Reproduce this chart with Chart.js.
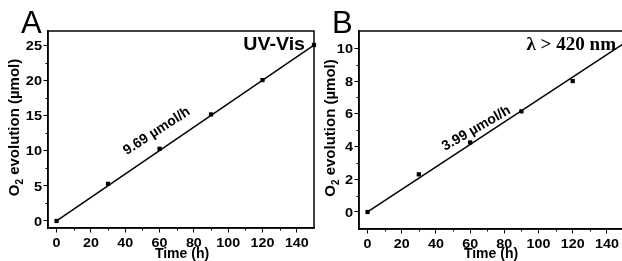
<!DOCTYPE html>
<html>
<head>
<meta charset="utf-8">
<script src="https://cdn.jsdelivr.net/npm/chart.js@4.4.1/dist/chart.umd.min.js"></script>
<style>
  html, body { margin: 0; padding: 0; background: #fff; }
  body { width: 622px; height: 261px; position: relative; overflow: hidden; }
  canvas { position: absolute; top: 0; }
  #panelA { left: 0; }
  #panelB { left: 311px; }
</style>
</head>
<body>
<canvas id="panelA" width="322" height="261"></canvas>
<canvas id="panelB" width="320" height="261"></canvas>
<script>
// sampling times and measured O2 (µmol)
const times = [0, 30, 60, 90, 120, 150];
const uvVisO2 = [0, 5.3, 10.3, 15.2, 20.1, 25.1];
const visO2 = [0, 2.3, 4.25, 6.15, 8.0, 10.3];

// linear fits (end points)
const fitTimes = [0, 150];
const uvVisFit = [0, 25.1];
const visFit = [0, 10.3];

// axis ticks
const xTicks = [0, 20, 40, 60, 80, 100, 120, 140];
const xMinor = [10, 30, 50, 70, 90, 110, 130];
const uvVisTicks = [0, 5, 10, 15, 20, 25];
const uvVisMinor = [2.5, 7.5, 12.5, 17.5, 22.5];
const visTicks = [0, 2, 4, 6, 8, 10];
const visMinor = [1, 3, 5, 7, 9];

const SANS = "'Liberation Sans', Arial, sans-serif";
const SERIF = "'Liberation Serif', 'Times New Roman', serif";

// text stretched horizontally like the scanned figure
function drawText(ctx, txt, x, y, font, align, sx) {
    ctx.save();
    ctx.font = font;
    ctx.textAlign = align;
    ctx.textBaseline = 'alphabetic';
    ctx.translate(x, y);
    ctx.scale(sx, 1);
    ctx.fillText(txt, 0, 0);
    ctx.restore();
}

const panelDecor = {
    id: 'panelDecor',
    afterDraw(chart, args, o) {
        const ctx = chart.ctx;
        const a = chart.chartArea;
        const xs = chart.scales.x, ys = chart.scales.y;
        ctx.save();
        // frame
        ctx.strokeStyle = '#000';
        ctx.lineWidth = 1.5;
        ctx.strokeRect(a.left, a.top, a.right - a.left, a.bottom - a.top);

        // minor ticks
        ctx.lineWidth = 1;
        ctx.beginPath();
        o.xMinor.forEach(v => {
            const px = Math.round(xs.getPixelForValue(v)) + 0.5;
            ctx.moveTo(px, a.bottom);
            ctx.lineTo(px, a.bottom + 2.5);
        });
        o.yMinor.forEach(v => {
            const py = Math.round(ys.getPixelForValue(v)) + 0.5;
            ctx.moveTo(a.left, py);
            ctx.lineTo(a.left - 2.5, py);
        });
        ctx.stroke();

        ctx.fillStyle = '#000';
        const tickFont = 'bold 13px ' + SANS;
        // tick labels
        xTicks.forEach(v => drawText(ctx, String(v), xs.getPixelForValue(v), a.bottom + 18.5, tickFont, 'center', 1.1));
        o.yTicks.forEach(v => drawText(ctx, String(v), a.left - 6, ys.getPixelForValue(v) + 4.6, tickFont, 'right', 1.12));

        // panel letter
        drawText(ctx, o.letter, o.letterX, 33, '31px ' + SANS, 'left', 1);

        // condition label
        drawText(ctx, o.cond, o.condRight, 50, o.condFont, 'right', o.condScale);

        // rate annotation along the fit line
        ctx.save();
        ctx.font = 'bold 14px ' + SANS;
        ctx.textAlign = 'center';
        ctx.textBaseline = 'middle';
        ctx.translate(xs.getPixelForValue(o.noteX), ys.getPixelForValue(o.noteY));
        ctx.rotate(o.noteAngle * Math.PI / 180);
        ctx.fillText(o.note, 0, 0);
        ctx.restore();

        // x title
        drawText(ctx, 'Time (h)', o.xTitleX, 258, 'bold 14px ' + SANS, 'center', 1);

        // y title with subscript
        ctx.save();
        ctx.translate(o.yTitleX, (a.top + a.bottom) / 2 - 2);
        ctx.rotate(-Math.PI / 2);
        const big = 'bold 15px ' + SANS, small = 'bold 10px ' + SANS;
        ctx.font = big;
        const w1 = ctx.measureText('O').width;
        const w3 = ctx.measureText(' evolution (\u00b5mol)').width;
        ctx.font = small;
        const w2 = ctx.measureText('2').width;
        const x0 = -(w1 + w2 + w3) / 2;
        ctx.textAlign = 'left';
        ctx.textBaseline = 'middle';
        ctx.font = big;
        ctx.fillText('O', x0, 0);
        ctx.font = small;
        ctx.fillText('2', x0 + w1, 5);
        ctx.font = big;
        ctx.fillText(' evolution (\u00b5mol)', x0 + w1 + w2, 0);
        ctx.restore();

        ctx.restore();
    }
};

function makePanel(id, values, fit, yMin, yMax, yTicks, decor, padRight, xHeight) {
    decor.yTicks = yTicks;
    new Chart(document.getElementById(id), {
        type: 'scatter',
        data: {
            datasets: [
                {
                    data: fitTimes.map((t, i) => ({ x: t, y: fit[i] })),
                    showLine: true,
                    borderColor: '#000',
                    borderWidth: 1.5,
                    pointRadius: 0
                },
                {
                    data: times.map((t, i) => ({ x: t, y: values[i] })),
                    showLine: false,
                    pointStyle: 'rect',
                    pointRadius: 3,
                    backgroundColor: '#000',
                    borderColor: '#000',
                    borderWidth: 0,
                    clip: false
                }
            ]
        },
        options: {
            responsive: false,
            animation: false,
            devicePixelRatio: 1,
            layout: { padding: { top: 31, right: padRight, left: 0, bottom: 0 } },
            plugins: { legend: { display: false }, tooltip: { enabled: false }, panelDecor: decor },
            scales: {
                x: {
                    type: 'linear',
                    min: -5,
                    max: 150,
                    afterBuildTicks: s => { s.ticks = xTicks.map(v => ({ value: v })); },
                    afterFit: s => { s.height = xHeight; },
                    ticks: { display: false },
                    grid: { drawOnChartArea: false, drawTicks: true, tickLength: 4.5, color: '#000', lineWidth: 1 },
                    border: { display: true, color: '#000', width: 1.5 }
                },
                y: {
                    type: 'linear',
                    min: yMin,
                    max: yMax,
                    afterBuildTicks: s => { s.ticks = yTicks.map(v => ({ value: v })); },
                    afterFit: s => { s.width = 48; },
                    ticks: { display: false },
                    grid: { drawOnChartArea: false, drawTicks: true, tickLength: 4.5, color: '#000', lineWidth: 1 },
                    border: { display: true, color: '#000', width: 1.5 }
                }
            }
        },
        plugins: [panelDecor]
    });
}

makePanel('panelA', uvVisO2, uvVisFit, -1, 27.1, uvVisTicks, {
    letter: 'A', letterX: 21,
    cond: 'UV-Vis', condFont: 'bold 17.5px ' + SANS, condRight: 305, condScale: 1.12,
    note: '9.69 \u00b5mol/h', noteX: 58.3, noteY: 12.8, noteAngle: -33,
    xMinor: xMinor, yMinor: uvVisMinor, yTitleX: 15, xTitleX: 182
}, 8, 33);

makePanel('panelB', visO2, visFit, -1.04, 11.06, visTicks, {
    letter: 'B', letterX: 21,
    cond: '\u03bb > 420 nm', condFont: 'bold 18.5px ' + SERIF, condRight: 305, condScale: 1.03,
    note: '3.99 \u00b5mol/h', noteX: 63.6, noteY: 5.1, noteAngle: -30,
    xMinor: xMinor, yMinor: visMinor, yTitleX: 20, xTitleX: 180
}, 7, 32);
</script>
</body>
</html>
